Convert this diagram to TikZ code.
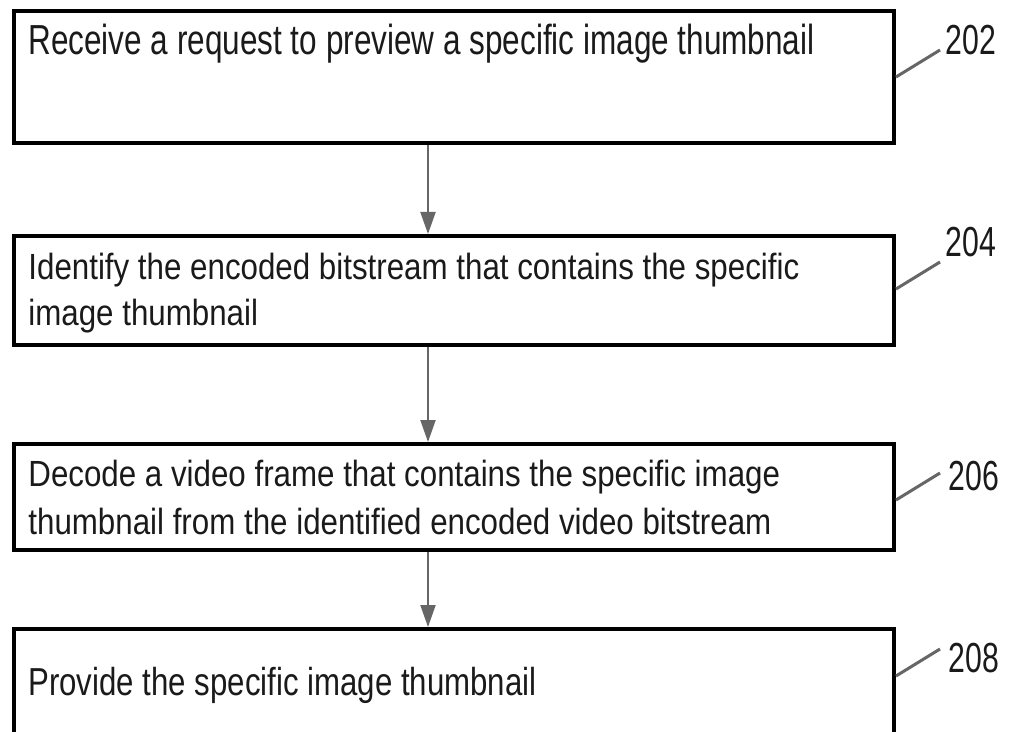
\documentclass[tikz,border=0pt]{standalone}
\usepackage{fontspec}
\setmainfont{Liberation Sans}
\newfontfamily\fA[FakeStretch=0.75]{Liberation Sans}
\newfontfamily\fB[FakeStretch=0.86]{Liberation Sans}
\newfontfamily\fC[FakeStretch=0.80]{Liberation Sans}
\newfontfamily\fL[FakeStretch=0.72]{Liberation Sans}
\usetikzlibrary{arrows.meta}
\definecolor{linegray}{HTML}{666666}
\definecolor{ink}{HTML}{1A1A1A}
\tikzset{
  stepbox/.style={draw=black, line width=2pt, inner sep=0pt, anchor=north west},
  steptext/.style={inner sep=0pt, align=left, text=ink},
  flow/.style={draw=linegray, line width=1pt, -{Triangle[width=7.5pt,length=11pt]}},
  leader/.style={draw=linegray, line width=1.5pt},
  reflabel/.style={inner sep=0pt, anchor=base west, text=ink, font=\fL\fontsize{21}{24}\selectfont},
}
\begin{document}
\begin{tikzpicture}[x=0.5pt,y=-0.5pt]
\useasboundingbox (0,0) rectangle (1011,732);
\clip (0,0) rectangle (1011,732);
\fill[white] (0,0) rectangle (1011,732);
% boxes
\node[stepbox, minimum width=440pt, minimum height=66pt] (b1) at (12,9) {};
\node[stepbox, minimum width=440pt, minimum height=54.5pt] (b2) at (12,234) {};
\node[stepbox, minimum width=440pt, minimum height=53pt] (b3) at (12,442) {};
\node[stepbox, minimum width=440pt, minimum height=70pt] (b4) at (12,627) {};
% texts
\node[steptext, anchor=base west, font=\fA\fontsize{21}{24}\selectfont] (t1) at (28,55) {Receive a request to preview a specific image thumbnail};
\node[steptext, anchor=north west, font=\fB\fontsize{18.2}{23}\selectfont] (t2) at (28,253) {Identify the encoded bitstream that contains the specific\\image thumbnail};
\node[steptext, anchor=north west, font=\fB\fontsize{18.2}{24}\selectfont] (t3) at (28,460) {Decode a video frame that contains the specific image\\thumbnail from the identified encoded video bitstream};
\node[steptext, anchor=base west, font=\fC\fontsize{19.5}{24}\selectfont] (t4) at (28,695) {Provide the specific image thumbnail};
% arrows
\draw[flow] (b1.south -| 428,0) -- (b2.north -| 428,0);
\draw[flow] (b2.south -| 428,0) -- (b3.north -| 428,0);
\draw[flow] (b3.south -| 428,0) -- (b4.north -| 428,0);
% reference labels
\node[reflabel] (r1) at (945,55) {202};
\node[reflabel] (r2) at (945,257) {204};
\node[reflabel] (r3) at (948,490) {206};
\node[reflabel] (r4) at (948,672) {208};
\coordinate (c1) at (940,50);
\coordinate (c2) at (940,262);
\coordinate (c3) at (940,473);
\coordinate (c4) at (940,649);
\draw[leader] (b1.east |- 0,77) -- (c1);
\draw[leader] (b2.east |- 0,289) -- (c2);
\draw[leader] (b3.east |- 0,500) -- (c3);
\draw[leader] (b4.east |- 0,676) -- (c4);
\end{tikzpicture}
\end{document}
